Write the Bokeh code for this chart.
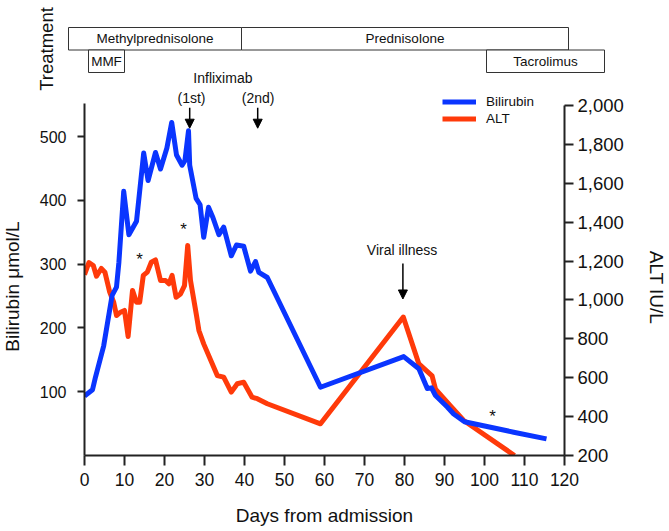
import math
from bokeh.plotting import figure
from bokeh.models import (Range1d, LinearAxis, Legend, LegendItem, Arrow, NormalHead,
                          FixedTicker, NumeralTickFormatter)
from bokeh.embed import file_html
from bokeh.resources import INLINE
from bokeh.core.properties import value

# ---------------- data ----------------
bili_days = [0, 2, 2.75, 4.8, 6.9, 8, 8.6, 9.8, 11.1, 13.0, 14.8, 15.9, 17.75, 19, 20.6, 21.8,
             23, 24.4, 25.1, 26.0, 26.3, 27.9, 28.9, 29.8, 31.0, 32.1, 33.6, 34.8, 36.7, 38.0,
             39.8, 41.5, 42.75, 43.6, 45.7, 59, 79.8, 83.6, 85.7, 86.75, 87.75, 90.7, 92.3,
             95, 107.3, 115.5]
bilirubin = [93, 103, 123, 172, 251, 264, 303, 414, 346, 367, 474, 431, 475, 449, 482, 522,
             471, 455, 462, 509, 455, 403, 393, 342, 389, 373, 346, 358, 313, 330,
             328, 289, 304, 287, 279, 107, 155, 136, 105, 106, 94, 76, 65,
             53, 36.5, 26]

alt_days = [0, 1.1, 2.2, 3, 4.2, 5.1, 6.3, 7.3, 8, 9, 10, 10.9, 12, 13, 13.8, 14.7, 15.7,
            16.7, 17.75, 19, 20.25, 21.1, 21.9, 22.9, 24, 25, 25.8, 26.5, 28, 28.6, 29.8,
            33.2, 34.8, 36.7, 38.2, 39.8, 41.9, 43.2, 45.7, 59, 79.7, 83.6, 86.9, 87.75,
            91.5, 94.8, 107.5]
alt = [1130, 1192, 1177, 1122, 1162, 1143, 1040, 988, 920, 937, 946, 812, 1049, 988, 988,
       1126, 1143, 1194, 1206, 1100, 1100, 1083, 1126, 1014, 1031, 1074, 1280, 1100, 920,
       843, 774, 611, 603, 526, 569, 577, 500, 492, 466, 363, 912, 671, 610, 541,
       455, 380, 200]

treat_names = ["Methylprednisolone", "Prednisolone", "MMF", "Tacrolimus"]
treat_start = [-4, 39.25, 1, 100.5]
treat_end = [39.25, 121, 10, 130]
treat_row = [0, 0, 1, 1]

x_ticks = list(range(0, 121, 10))
bili_ticks = [100, 200, 300, 400, 500]
alt_ticks = list(range(200, 2001, 200))

asterisk_days = [13.75, 24.75, 102]
asterisk_alt = [1208, 1362, 400]

# ---------------- layout constants (page pixels) ----------------
W, H = 669, 531
FR_L, FR_R, FR_T, FR_B = 84, 564, 90, 455    # plot frame edges
AX_TOP = 105                                  # page y of the top of both y axes
PX_DAY = (FR_R - FR_L) / 120.0
BILI_PX = 319 / 500.0                         # px per µmol/L
ALT_PX = (FR_B - AX_TOP) / 1800.0             # px per IU/L
ROW_TOP, ROW_H = 27, 22.5
FONT = value("Liberation Sans")
BLUE = "#0a35ff"
RED = "#ff3a0a"
AX = "#222222"
TXT = "#111111"

frame_h = FR_B - FR_T
p = figure(width=W, height=H, output_backend="svg", toolbar_location=None,
           x_range=Range1d(0, 120), y_range=Range1d(0, frame_h / BILI_PX),
           min_border_left=FR_L, min_border_right=W - FR_R,
           min_border_top=FR_T, min_border_bottom=H - FR_B, title=None)
p.extra_y_ranges = {"alt": Range1d(200, 200 + frame_h / ALT_PX),
                    "strip": Range1d(FR_B, FR_T)}
p.grid.visible = False
p.outline_line_color = None

def day_at(px):
    return (px - FR_L) / PX_DAY

# ---------------- treatment strip (drawn above the frame) ----------------
tops = [ROW_TOP + r * ROW_H for r in treat_row]
bots = [t + ROW_H for t in tops]
p.quad(left=treat_start, right=treat_end, top=tops, bottom=bots, y_range_name="strip",
       fill_color="white", line_color="#333333", line_width=1, level="overlay")
p.text(x=[(a + b) / 2 for a, b in zip(treat_start, treat_end)],
       y=[(t + b) / 2 for t, b in zip(tops, bots)], text=treat_names, y_range_name="strip",
       text_font=FONT, text_font_size="13.5px", text_align="center",
       text_baseline="middle", text_color=TXT, level="overlay")
p.text(x=[day_at(46)], y=[48.5], text=["Treatment"], angle=math.pi / 2,
       y_range_name="strip", text_font=FONT, text_font_size="18.5px", text_align="center",
       text_baseline="middle", text_color=TXT, level="overlay")

# ---------------- series ----------------
r_alt = p.line(alt_days, alt, y_range_name="alt", line_color=RED, line_width=5,
               line_join="round")
r_bili = p.line(bili_days, bilirubin, line_color=BLUE, line_width=5, line_join="round")

def style_axis(ax, size, tick_out, standoff):
    ax.axis_line_color = AX
    ax.axis_line_width = 2
    ax.major_tick_line_color = AX
    ax.major_tick_line_width = 2
    ax.major_tick_out = tick_out
    ax.major_tick_in = 0
    ax.minor_tick_line_color = None
    ax.major_label_text_font = "Liberation Sans"
    ax.major_label_text_font_size = size
    ax.major_label_text_color = TXT
    ax.major_label_standoff = standoff
    ax.axis_label_text_font = "Liberation Sans"
    ax.axis_label_text_font_size = "19px"
    ax.axis_label_text_font_style = "normal"
    ax.axis_label_text_color = TXT

xa = p.xaxis[0]
xa.ticker = FixedTicker(ticks=x_ticks)
xa.axis_label = "Days from admission"
xa.axis_label_standoff = 16
xa.bounds = (0, 120)
style_axis(xa, "17.5px", 10, 7)

ya = p.yaxis[0]
ya.ticker = FixedTicker(ticks=bili_ticks)
ya.bounds = (0, (FR_B - AX_TOP + 2) / BILI_PX)
style_axis(ya, "16px", 7, 11)

ra = LinearAxis(y_range_name="alt", ticker=FixedTicker(ticks=alt_ticks),
                formatter=NumeralTickFormatter(format="0,0"), bounds=(200, 2000))
style_axis(ra, "18.5px", 9, 4)
p.add_layout(ra, "right")

# vertical axis titles, centred where the reference has them
p.text(x=[day_at(12)], y=[(FR_B - 286) / BILI_PX], text=["Bilirubin μmol/L"],
       angle=math.pi / 2, text_font=FONT, text_font_size="19px", text_align="center",
       text_baseline="middle", text_color=TXT, level="overlay")
p.text(x=[day_at(656)], y=[200 + (FR_B - 287) / ALT_PX], y_range_name="alt",
       text=["ALT IU/L"], angle=-math.pi / 2, text_font=FONT, text_font_size="19px",
       text_align="center", text_baseline="middle", text_color=TXT, level="overlay")

# ---------------- annotations ----------------
p.text(x=[34.6], y=[592], text=["Infliximab"], text_font=FONT, text_font_size="14px",
       text_align="center", text_baseline="middle", text_color=TXT, level="overlay")
p.text(x=[26.75, 43.4], y=[561, 561], text=["(1st)", "(2nd)"], text_font=FONT,
       text_font_size="14px", text_align="center", text_baseline="middle",
       text_color=TXT, level="overlay")
for d in [26.3, 43.3]:
    p.add_layout(Arrow(x_start=d, y_start=545, x_end=d, y_end=513, line_width=1.5,
                       line_color="black",
                       end=NormalHead(size=9, fill_color="black", line_color="black")))
p.text(x=[79.4], y=[1259], y_range_name="alt", text=["Viral illness"], text_font=FONT,
       text_font_size="14px", text_align="center", text_baseline="middle",
       text_color=TXT)
p.add_layout(Arrow(x_start=79.6, y_start=1187, x_end=79.6, y_end=1005, y_range_name="alt",
                   line_width=1.5, line_color="black",
                   end=NormalHead(size=9, fill_color="black", line_color="black")))
p.text(x=asterisk_days, y=asterisk_alt, y_range_name="alt", text=["*"] * 3,
       text_font=FONT, text_font_size="17px", text_align="center",
       text_baseline="middle", text_color=TXT)

legend = Legend(items=[LegendItem(label="Bilirubin", renderers=[r_bili]),
                       LegendItem(label="ALT", renderers=[r_alt])],
                location=(442 - FR_L, FR_B - 126.5), padding=0, margin=0, spacing=0,
                glyph_width=34, glyph_height=17, label_height=17, label_standoff=10,
                label_text_font="Liberation Sans", label_text_font_size="13.5px",
                label_text_color=TXT, border_line_color=None,
                background_fill_alpha=0)
p.add_layout(legend)

open("out.html", "w").write(file_html(p, INLINE))
